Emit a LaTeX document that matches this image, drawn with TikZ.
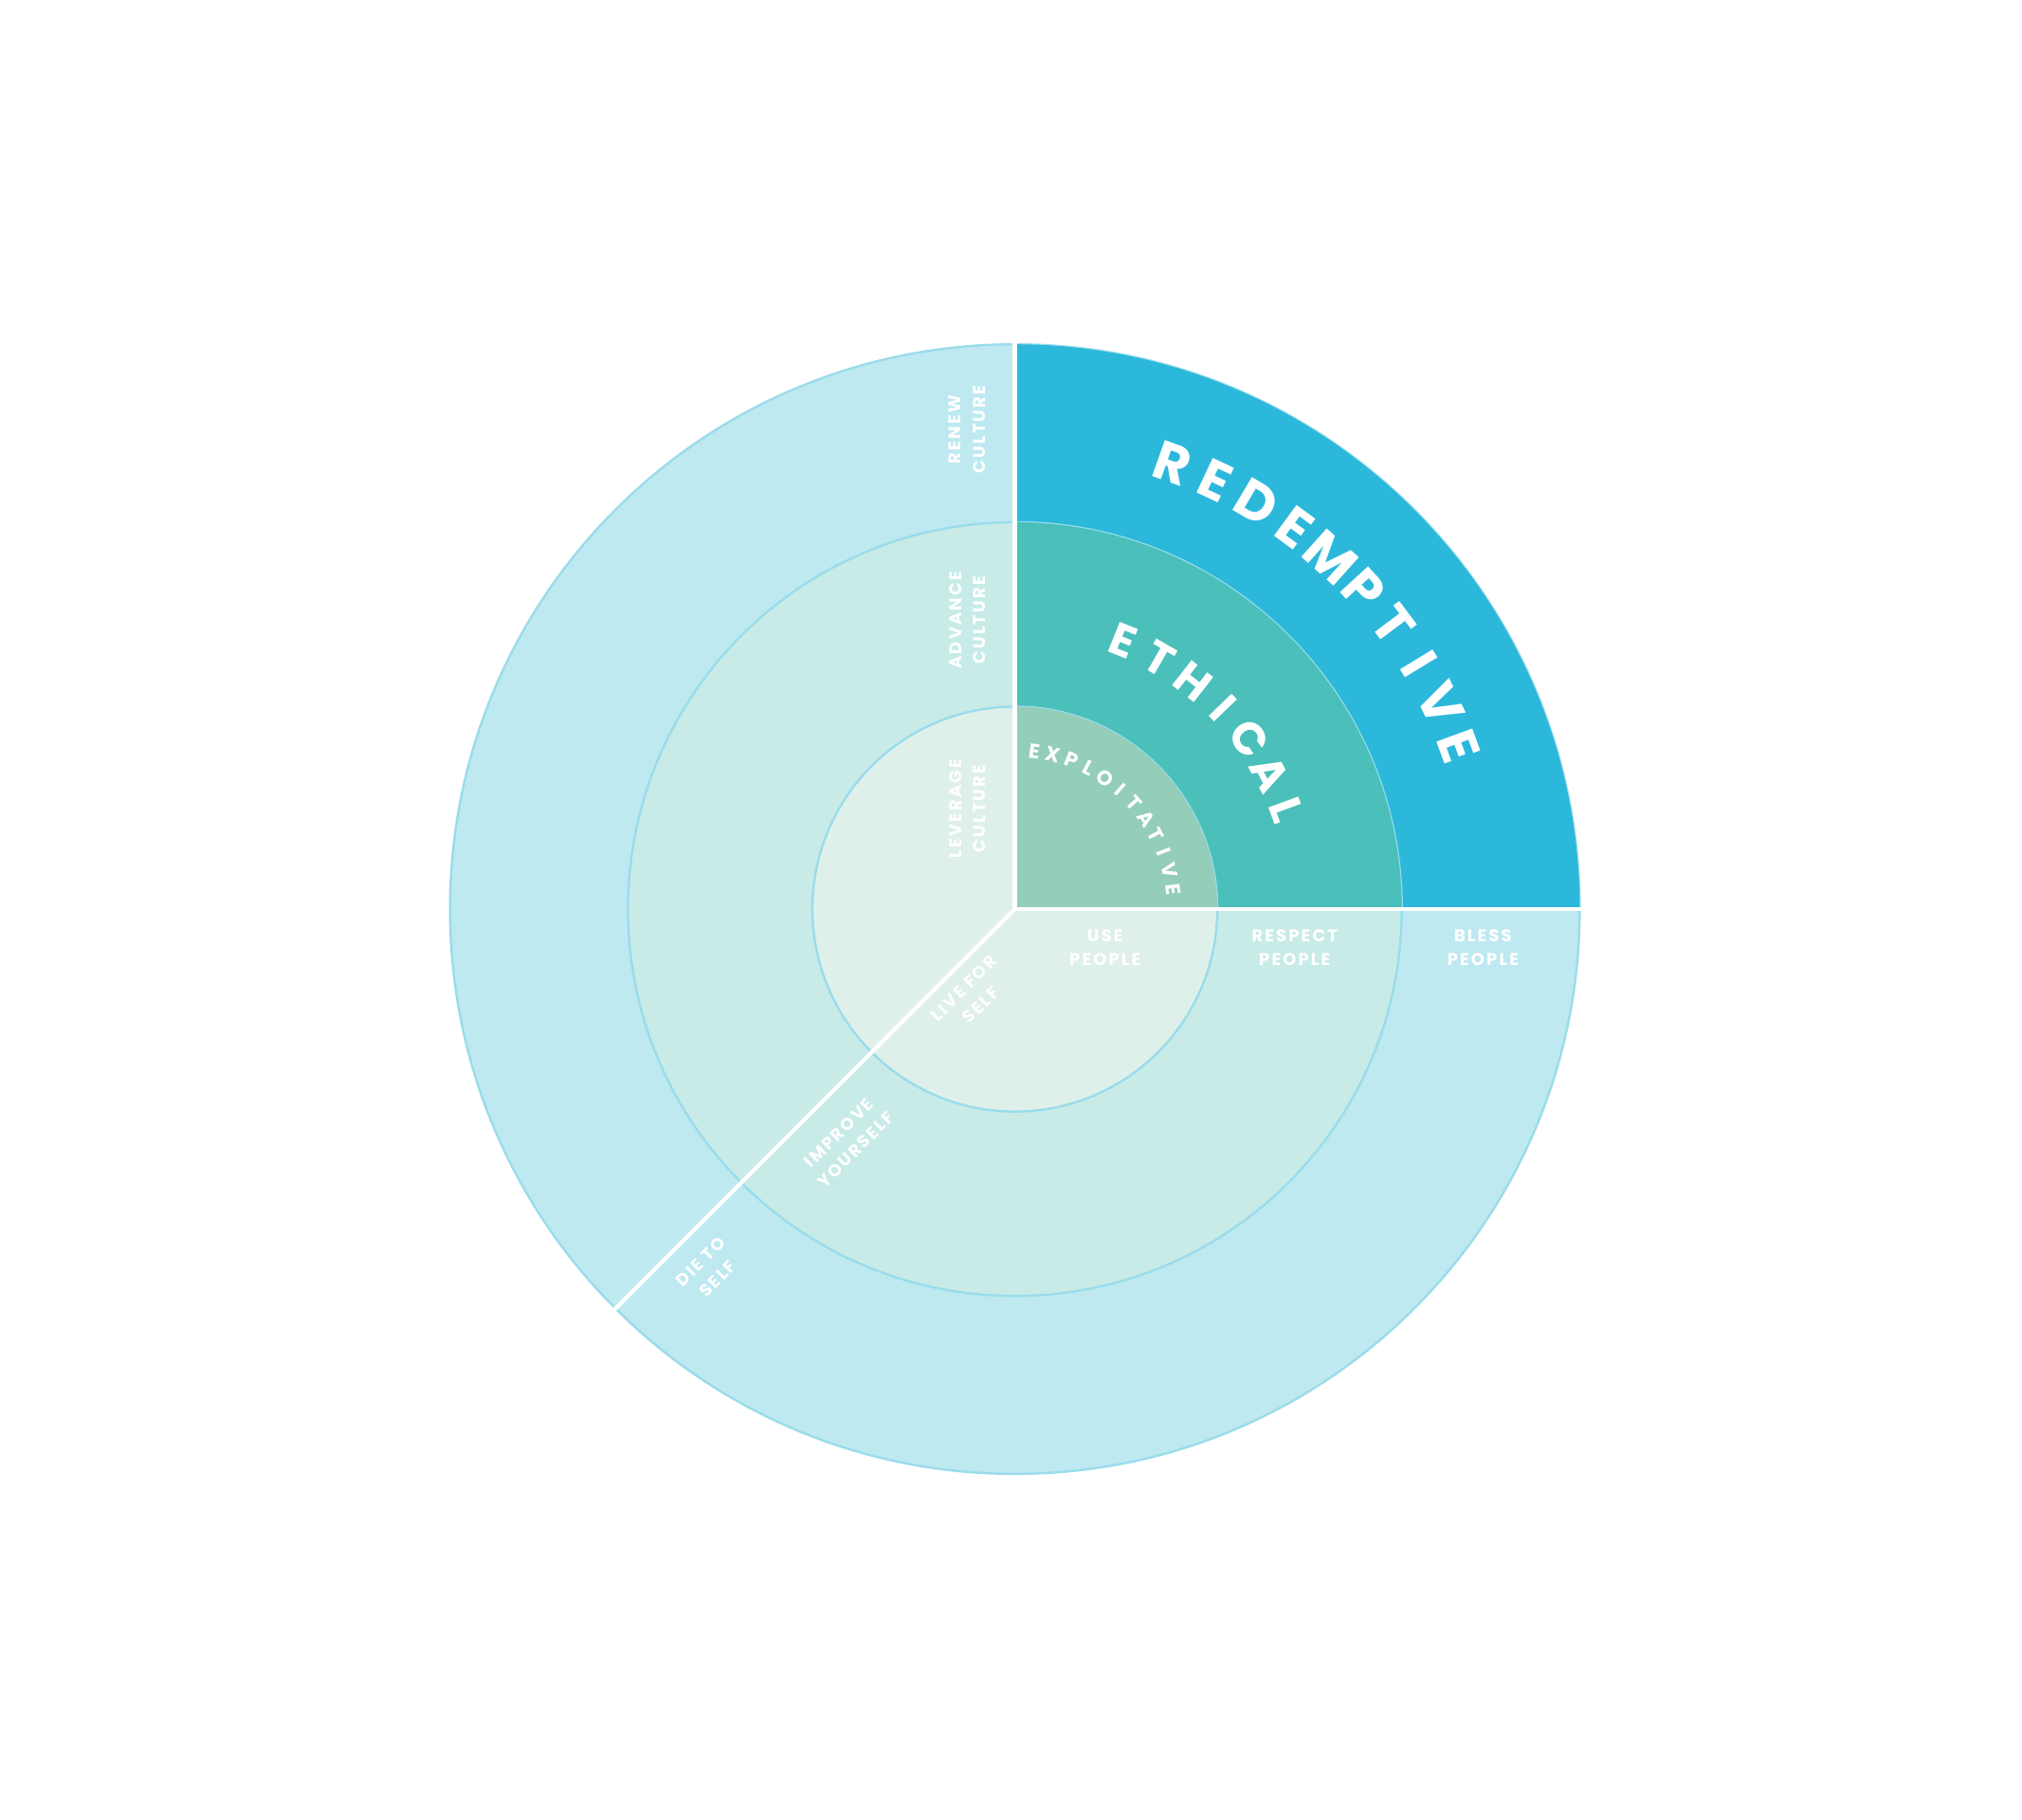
\documentclass[tikz,border=0pt]{standalone}
\usepackage{fontspec}
\setmainfont{Poppins}
\newfontfamily\spaced[LetterSpace=12]{Poppins}
\begin{document}
\begin{tikzpicture}[x=0.02cm,y=0.02cm,
  lbl/.style={text=white,font=\spaced\bfseries\fontsize{7.5}{10.5}\selectfont,align=center,inner sep=0pt},
  arcletter/.style={text=white,inner sep=0pt,anchor=base}]
\definecolor{lo}{HTML}{BEE9F1}\definecolor{lm}{HTML}{C8EBE8}\definecolor{li}{HTML}{DFF0EA}
\definecolor{do}{HTML}{2BB8DB}\definecolor{dm}{HTML}{4BBFBA}\definecolor{di}{HTML}{94CDB8}
\definecolor{rim}{HTML}{9ADCEB}
\useasboundingbox (-787,-706) rectangle (781,705);
\fill[white] (-787,-706) rectangle (781,705);
% rings
\filldraw[fill=lo,draw=rim,line width=1pt] (0,0) circle (438);
\fill[do] (0,0) -- (0:438) arc (0:90:438) -- cycle;
\filldraw[fill=lm,draw=rim,line width=1pt] (0,0) circle (300);
\fill[dm] (0,0) -- (0:300) arc (0:90:300) -- cycle;
\filldraw[fill=li,draw=rim,line width=1pt] (0,0) circle (157);
\fill[di] (0,0) -- (0:157) arc (0:90:157) -- cycle;
% white dividers
\draw[white,line width=1.8pt] (0,440) -- (0,0) -- (440,0);
\draw[white,line width=1.8pt] (0,0) -- (225:440);
% curved titles
\foreach \ch [count=\i] in {R,E,D,E,M,P,T,I,V,E}{
  \pgfmathsetmacro\a{70.5-(\i-1)*5.6}
  \node[arcletter,font=\bfseries\fontsize{24}{24}\selectfont,rotate=\a-90] at (\a:352) {\ch};}
\foreach \ch [count=\i] in {E,T,H,I,C,A,L}{
  \pgfmathsetmacro\a{68-(\i-1)*8}
  \node[arcletter,font=\bfseries\fontsize{20}{20}\selectfont,rotate=\a-90] at (\a:212) {\ch};}
\foreach \ch [count=\i] in {E,X,P,L,O,I,T,A,T,I,V,E}{
  \pgfmathsetmacro\a{83-(\i-1)*6.9}
  \node[arcletter,font=\bfseries\fontsize{9}{9}\selectfont,rotate=\a-90] at (\a:118) {\ch};}
% small labels
\node[lbl,rotate=90] (renew) at (-37,372) {RENEW\\CULTURE};
\node[lbl,rotate=90] (adv) at (-37,224) {ADVANCE\\CULTURE};
\node[lbl,rotate=90] (lev) at (-37,78) {LEVERAGE\\CULTURE};
\node[lbl] (use) at (70,-30) {USE\\PEOPLE};
\node[lbl] (resp) at (217,-30) {RESPECT\\PEOPLE};
\node[lbl] (bless) at (363,-30) {BLESS\\PEOPLE};
\node[lbl,rotate=45] (live) at (-33,-68) {LIVE FOR\\SELF};
\node[lbl,rotate=45] (impr) at (-130,-180) {IMPROVE\\YOURSELF};
\node[lbl,rotate=45] (die) at (-237,-280) {DIE TO\\SELF};
\end{tikzpicture}
\end{document}
